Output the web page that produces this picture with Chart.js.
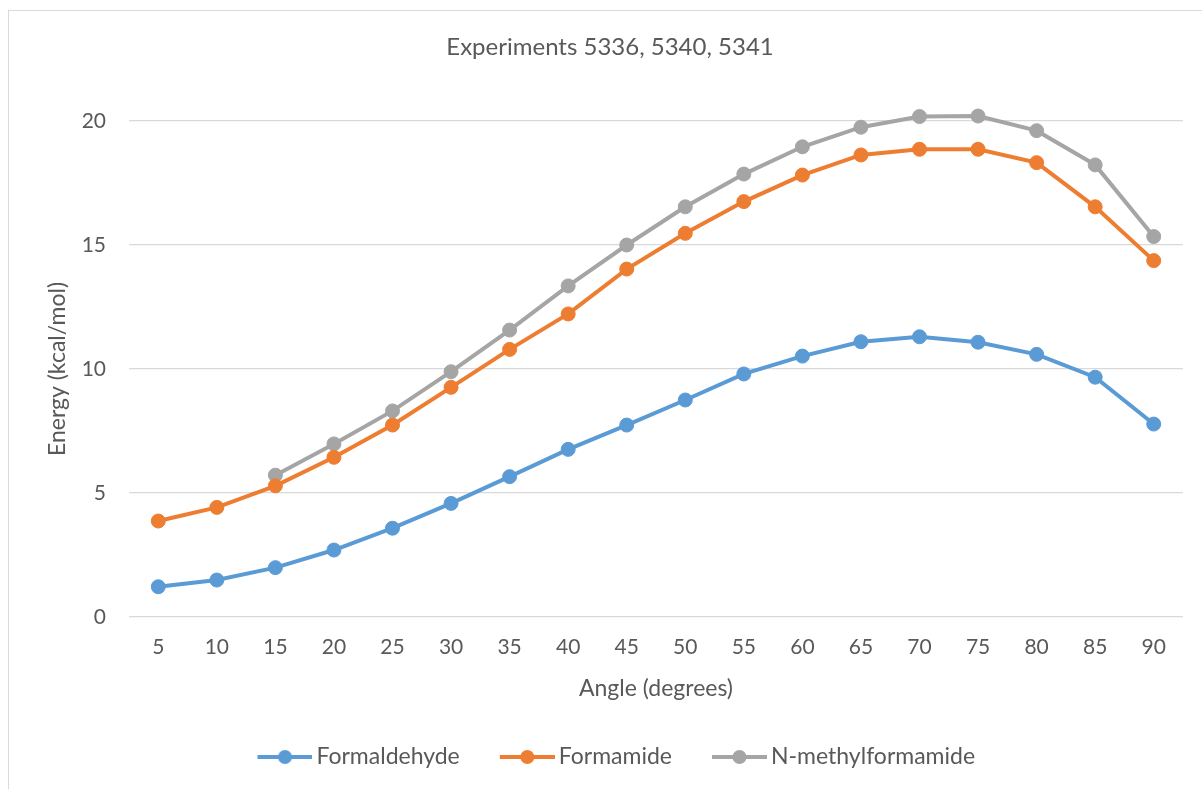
<!DOCTYPE html>
<html>
<head>
<meta charset="utf-8">
<script src="https://cdn.jsdelivr.net/npm/chart.js@4.4.1/dist/chart.umd.min.js"></script>
<style>
  html, body { margin: 0; padding: 0; background: #fff; overflow: hidden; width: 1202px; height: 789px; }
  #frame { position: absolute; left: 8px; top: 10px; width: 1240px; height: 800px; border: 1px solid #d9d9d9; box-sizing: border-box; }
  #c { position: absolute; left: 37px; top: 11px; }
</style>
</head>
<body>
<div id="frame"></div>
<canvas id="c" width="1190" height="778"></canvas>
<script>
const categories = ['5','10','15','20','25','30','35','40','45','50','55','60','65','70','75','80','85','90'];
const formaldehyde = [1.22, 1.49, 1.99, 2.70, 3.58, 4.58, 5.66, 6.76, 7.74, 8.75, 9.80, 10.52, 11.10, 11.30, 11.08, 10.59, 9.67, 7.78];
const formamide = [3.87, 4.42, 5.29, 6.44, 7.74, 9.26, 10.79, 12.22, 14.03, 15.47, 16.75, 17.82, 18.63, 18.86, 18.86, 18.32, 16.54, 14.37];
const nMethylformamide = [null, null, 5.72, 6.98, 8.31, 9.89, 11.57, 13.35, 15.00, 16.54, 17.86, 18.96, 19.75, 20.18, 20.20, 19.61, 18.23, 15.34];
const seriesNames = ['Formaldehyde', 'Formamide', 'N-methylformamide'];
const seriesColors = ['#5B9BD5', '#ED7D31', '#A5A5A5'];
const yTicks = [0, 5, 10, 15, 20];

const FONT = 'Lato, "Open Sans", sans-serif';
const TEXT = '#595959';

// legend key: transparent lead-in, then a short line with a dot
function legendIcon(color) {
  const cv = document.createElement('canvas');
  cv.width = 75; cv.height = 18;
  const g = cv.getContext('2d');
  g.strokeStyle = color; g.lineWidth = 4; g.lineCap = 'butt';
  g.beginPath(); g.moveTo(20, 9); g.lineTo(75, 9); g.stroke();
  g.fillStyle = color;
  g.beginPath(); g.arc(47.5, 9, 7, 0, Math.PI * 2); g.fill();
  return cv;
}
const icons = seriesColors.map(legendIcon);

function mk(i, data) {
  return {
    label: seriesNames[i],
    data: data,
    borderColor: seriesColors[i],
    backgroundColor: seriesColors[i],
    borderWidth: 4,
    pointRadius: 7,
    pointBorderWidth: 1,
    pointBorderColor: seriesColors[i],
    pointBackgroundColor: seriesColors[i],
    tension: 0,
    spanGaps: false,
    clip: false
  };
}

new Chart(document.getElementById('c'), {
  type: 'line',
  data: {
    labels: categories,
    datasets: [mk(0, formaldehyde), mk(1, formamide), mk(2, nMethylformamide)]
  },
  options: {
    responsive: false,
    animation: false,
    layout: { padding: { left: 0, right: 44, top: 0, bottom: 10.5 } },
    plugins: {
      title: {
        display: true,
        text: 'Experiments 5336, 5340, 5341',
        color: TEXT,
        font: { family: FONT, size: 24, weight: 'normal' },
        padding: { top: 22, bottom: 59.2 }
      },
      legend: {
        position: 'bottom',
        labels: {
          color: TEXT,
          font: { family: FONT, size: 23 },
          usePointStyle: true,
          pointStyleWidth: 60,
          padding: 27.5,
          generateLabels: (chart) => chart.data.datasets.map((ds, i) => ({
            text: ds.label,
            fillStyle: ds.borderColor,
            strokeStyle: ds.borderColor,
            fontColor: TEXT,
            lineWidth: 0,
            pointStyle: icons[i],
            hidden: false,
            datasetIndex: i
          }))
        }
      },
      tooltip: { enabled: false }
    },
    scales: {
      x: {
        offset: true,
        afterFit: (s) => { s.height = 101; },
        grid: { display: false, drawTicks: false },
        border: { display: false },
        ticks: { color: TEXT, font: { family: FONT, size: 21 }, padding: 18, maxRotation: 0, autoSkip: false },
        title: { display: true, text: 'Angle (degrees)', color: TEXT, font: { family: FONT, size: 23 }, padding: { top: 0, bottom: 16 } }
      },
      y: {
        min: 0, max: 20,
        afterBuildTicks: (s) => { s.ticks = yTicks.map(v => ({ value: v })); },
        afterFit: (s) => { s.width = 92; },
        grid: { color: '#D9D9D9', lineWidth: 1.3, drawTicks: false },
        border: { display: false },
        ticks: { color: TEXT, font: { family: FONT, size: 21 }, padding: 23 },
        title: { display: true, text: 'Energy (kcal/mol)', color: TEXT, font: { family: FONT, size: 23 }, padding: { top: 7.2, bottom: 0 } }
      }
    }
  }
});
</script>
</body>
</html>
